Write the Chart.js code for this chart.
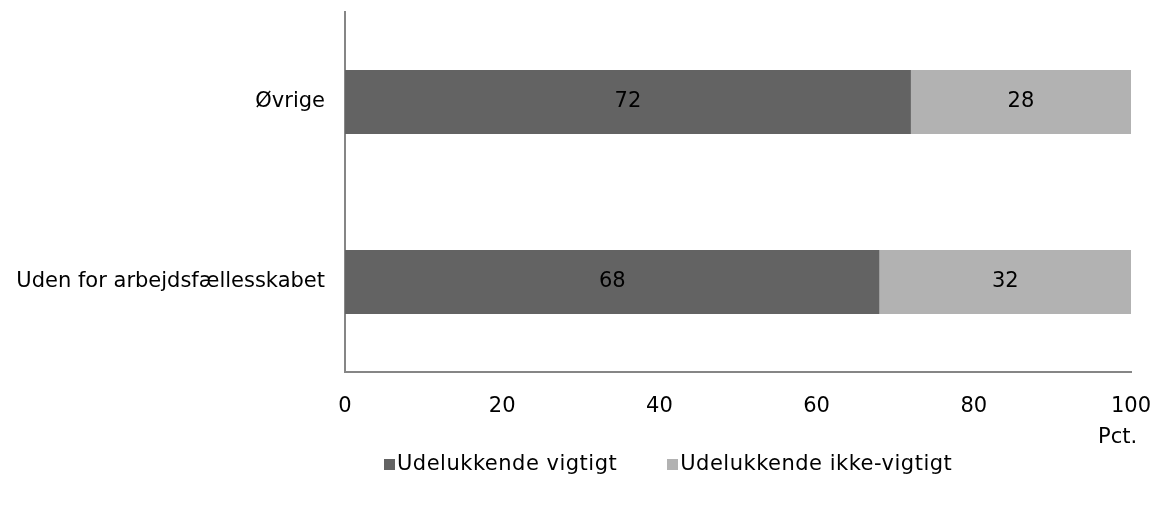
<!DOCTYPE html>
<html>
<head>
<meta charset="utf-8">
<script src="https://cdn.jsdelivr.net/npm/chart.js@4"></script>
<style>
  body { margin: 0; background: #fff; font-family: "DejaVu Sans", Verdana, sans-serif; }
  #wrap { position: relative; width: 1162px; height: 507px; }
  #pct { position: absolute; left: 1098px; top: 424px; font-size: 21px; color: #000; }
  #legend { position: absolute; left: 384px; top: 451px; font-size: 21px; letter-spacing: 0.5px; color: #000; white-space: nowrap; }
  .item { display: inline-block; margin-right: 50px; }
  .box { display: inline-block; width: 11px; height: 11px; margin-right: 2px; }
</style>
</head>
<body>
<div id="wrap">
  <canvas id="chart" width="1162" height="507"></canvas>
  <div id="pct">Pct.</div>
  <div id="legend"></div>
</div>
<script>
const categories = ["Øvrige", "Uden for arbejdsfællesskabet"];
const vigtigt = [72, 68];
const ikkeVigtigt = [28, 32];
const seriesNames = ["Udelukkende vigtigt", "Udelukkende ikke-vigtigt"];
const colors = ["#636363", "#b2b2b2"];

// labels in the middle of each bar segment
const valueLabels = {
    id: "valueLabels",
    afterDatasetsDraw(chart) {
        const ctx = chart.ctx;
        ctx.save();
        ctx.font = "21px 'DejaVu Sans'";
        ctx.fillStyle = "#000";
        ctx.textAlign = "center";
        ctx.textBaseline = "middle";
        chart.data.datasets.forEach(function (ds, i) {
            chart.getDatasetMeta(i).data.forEach(function (bar, j) {
                const mid = (bar.x + bar.base) / 2;
                ctx.fillText(ds.data[j], mid, bar.y);
            });
        });
        ctx.restore();
    }
};

Chart.defaults.font.family = "'DejaVu Sans', Verdana, sans-serif";
Chart.defaults.font.size = 21;
Chart.defaults.color = "#000";

new Chart(document.getElementById("chart"), {
    type: "bar",
    data: {
        labels: categories,
        datasets: [
            { label: seriesNames[0], data: vigtigt, backgroundColor: colors[0] },
            { label: seriesNames[1], data: ikkeVigtigt, backgroundColor: colors[1] }
        ]
    },
    options: {
        indexAxis: "y",
        responsive: false,
        animation: false,
        layout: { padding: { top: 12, right: 31, bottom: 0, left: 0 } },
        datasets: { bar: { categoryPercentage: 0.355, barPercentage: 1 } },
        plugins: { legend: { display: false }, tooltip: { enabled: false } },
        scales: {
            x: {
                stacked: true,
                min: 0,
                max: 100,
                ticks: { stepSize: 20, padding: 22 },
                grid: { display: false, drawTicks: false },
                border: { display: true, color: "#868686", width: 2 },
                afterFit: function (scale) {
                    scale.height = 135;
                    scale.paddingLeft = 0;
                    scale.paddingRight = 0;
                }
            },
            y: {
                stacked: true,
                ticks: { padding: 20 },
                grid: { display: false, drawTicks: false },
                border: { display: true, color: "#868686", width: 2 },
                afterFit: function (scale) {
                    scale.width = 345;
                    scale.paddingTop = 0;
                    scale.paddingBottom = 0;
                }
            }
        }
    },
    plugins: [valueLabels]
});

const legend = document.getElementById("legend");
seriesNames.forEach(function (name, i) {
    const item = document.createElement("span");
    item.className = "item";
    item.innerHTML = '<span class="box" style="background:' + colors[i] + '"></span>' + name;
    legend.appendChild(item);
});
</script>
</body>
</html>
